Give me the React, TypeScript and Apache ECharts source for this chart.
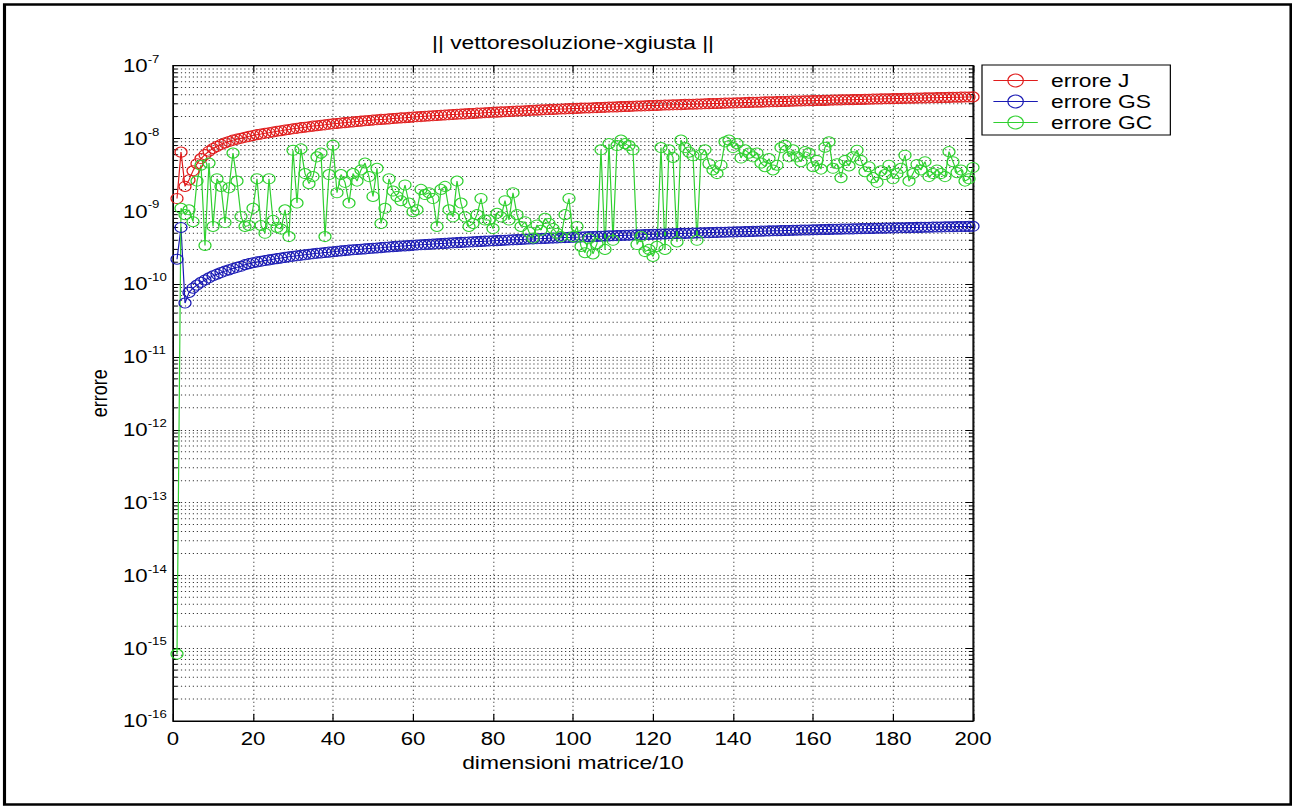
import React, { useEffect, useRef } from "react";
import * as echarts from "echarts";

// The reference figure is horizontally stretched by this factor
const S = 1.2;
const W = 1292 / S;
const H = 807;
const FONT = "'Liberation Sans', Arial, Helvetica, sans-serif";

const titleText = "|| vettoresoluzione-xgiusta ||";
const xName = "dimensioni matrice/10";
const yName = "errore";
const seriesNames = ["errore J", "errore GS", "errore GC"];
const colors = ["#e01c1c", "#1a1ab4", "#30d030"];
const GRIDC = "#3a3a3a";

const xMin = 0;
const xMax = 200;
const xStep = 20;
const yMin = 1e-16;
const yMax = 1e-7;
const minorFactors = [2, 3, 4, 5, 6, 7, 8, 9];
const decadeExps = [-16, -15, -14, -13, -12, -11, -10, -9, -8];

const dims = Array.from({ length: 200 }, (_, i) => i + 1);

const errJ = [
  1.5e-9, 6.5e-9, 2.2e-9, 2.7e-9, 3.6e-9, 4.5e-9, 5.3e-9, 6.0e-9, 6.7e-9, 7.3e-9,
  7.8e-9, 8.3e-9, 8.7e-9, 9.1e-9, 9.5e-9, 9.8e-9, 1.01e-8, 1.04e-8, 1.07e-8, 1.10e-8,
  1.13e-8, 1.15e-8, 1.18e-8, 1.20e-8, 1.23e-8, 1.26e-8, 1.28e-8, 1.31e-8, 1.33e-8, 1.36e-8,
  1.38e-8, 1.41e-8, 1.43e-8, 1.45e-8, 1.48e-8, 1.50e-8, 1.52e-8, 1.54e-8, 1.57e-8, 1.59e-8,
  1.61e-8, 1.63e-8, 1.65e-8, 1.67e-8, 1.69e-8, 1.71e-8, 1.73e-8, 1.75e-8, 1.77e-8, 1.79e-8,
  1.81e-8, 1.83e-8, 1.84e-8, 1.86e-8, 1.88e-8, 1.90e-8, 1.92e-8, 1.93e-8, 1.95e-8, 1.97e-8,
  1.99e-8, 2.00e-8, 2.02e-8, 2.04e-8, 2.05e-8, 2.07e-8, 2.09e-8, 2.10e-8, 2.12e-8, 2.14e-8,
  2.15e-8, 2.17e-8, 2.18e-8, 2.20e-8, 2.21e-8, 2.23e-8, 2.24e-8, 2.26e-8, 2.27e-8, 2.29e-8,
  2.30e-8, 2.32e-8, 2.33e-8, 2.35e-8, 2.36e-8, 2.38e-8, 2.39e-8, 2.41e-8, 2.42e-8, 2.44e-8,
  2.45e-8, 2.47e-8, 2.48e-8, 2.50e-8, 2.51e-8, 2.52e-8, 2.54e-8, 2.55e-8, 2.57e-8, 2.58e-8,
  2.59e-8, 2.61e-8, 2.62e-8, 2.63e-8, 2.64e-8, 2.66e-8, 2.67e-8, 2.68e-8, 2.70e-8, 2.71e-8,
  2.72e-8, 2.74e-8, 2.75e-8, 2.76e-8, 2.77e-8, 2.79e-8, 2.80e-8, 2.81e-8, 2.83e-8, 2.84e-8,
  2.85e-8, 2.86e-8, 2.88e-8, 2.89e-8, 2.90e-8, 2.91e-8, 2.92e-8, 2.94e-8, 2.95e-8, 2.96e-8,
  2.97e-8, 2.98e-8, 3.00e-8, 3.01e-8, 3.02e-8, 3.03e-8, 3.04e-8, 3.06e-8, 3.07e-8, 3.08e-8,
  3.09e-8, 3.10e-8, 3.12e-8, 3.13e-8, 3.14e-8, 3.15e-8, 3.16e-8, 3.18e-8, 3.19e-8, 3.20e-8,
  3.21e-8, 3.22e-8, 3.23e-8, 3.24e-8, 3.26e-8, 3.27e-8, 3.28e-8, 3.29e-8, 3.30e-8, 3.31e-8,
  3.32e-8, 3.33e-8, 3.34e-8, 3.35e-8, 3.37e-8, 3.38e-8, 3.39e-8, 3.40e-8, 3.41e-8, 3.42e-8,
  3.43e-8, 3.44e-8, 3.45e-8, 3.46e-8, 3.48e-8, 3.49e-8, 3.50e-8, 3.51e-8, 3.52e-8, 3.53e-8,
  3.54e-8, 3.55e-8, 3.56e-8, 3.57e-8, 3.58e-8, 3.59e-8, 3.60e-8, 3.61e-8, 3.62e-8, 3.63e-8,
  3.64e-8, 3.65e-8, 3.66e-8, 3.67e-8, 3.68e-8, 3.69e-8, 3.70e-8, 3.71e-8, 3.72e-8, 3.73e-8,
];

const errGS = [
  2.2e-10, 6.0e-10, 5.5e-11, 7.7e-11, 8.8e-11, 9.7e-11, 1.06e-10, 1.14e-10, 1.22e-10, 1.30e-10,
  1.37e-10, 1.44e-10, 1.51e-10, 1.57e-10, 1.64e-10, 1.70e-10, 1.76e-10, 1.85e-10, 1.91e-10, 1.97e-10,
  2.02e-10, 2.06e-10, 2.11e-10, 2.15e-10, 2.20e-10, 2.24e-10, 2.28e-10, 2.33e-10, 2.37e-10, 2.41e-10,
  2.45e-10, 2.49e-10, 2.53e-10, 2.57e-10, 2.61e-10, 2.65e-10, 2.68e-10, 2.72e-10, 2.75e-10, 2.79e-10,
  2.82e-10, 2.86e-10, 2.89e-10, 2.93e-10, 2.96e-10, 2.99e-10, 3.02e-10, 3.05e-10, 3.08e-10, 3.11e-10,
  3.14e-10, 3.17e-10, 3.21e-10, 3.24e-10, 3.27e-10, 3.30e-10, 3.33e-10, 3.35e-10, 3.38e-10, 3.41e-10,
  3.44e-10, 3.47e-10, 3.49e-10, 3.52e-10, 3.55e-10, 3.58e-10, 3.61e-10, 3.63e-10, 3.66e-10, 3.69e-10,
  3.71e-10, 3.74e-10, 3.76e-10, 3.79e-10, 3.81e-10, 3.84e-10, 3.86e-10, 3.89e-10, 3.91e-10, 3.94e-10,
  3.96e-10, 3.99e-10, 4.01e-10, 4.04e-10, 4.06e-10, 4.08e-10, 4.11e-10, 4.13e-10, 4.16e-10, 4.18e-10,
  4.20e-10, 4.22e-10, 4.25e-10, 4.27e-10, 4.29e-10, 4.31e-10, 4.33e-10, 4.36e-10, 4.38e-10, 4.40e-10,
  4.42e-10, 4.44e-10, 4.47e-10, 4.49e-10, 4.51e-10, 4.53e-10, 4.55e-10, 4.58e-10, 4.60e-10, 4.62e-10,
  4.64e-10, 4.66e-10, 4.68e-10, 4.70e-10, 4.72e-10, 4.74e-10, 4.76e-10, 4.79e-10, 4.81e-10, 4.83e-10,
  4.85e-10, 4.87e-10, 4.89e-10, 4.91e-10, 4.93e-10, 4.95e-10, 4.97e-10, 4.98e-10, 5.00e-10, 5.02e-10,
  5.04e-10, 5.06e-10, 5.08e-10, 5.10e-10, 5.12e-10, 5.14e-10, 5.16e-10, 5.17e-10, 5.19e-10, 5.21e-10,
  5.23e-10, 5.25e-10, 5.26e-10, 5.28e-10, 5.30e-10, 5.32e-10, 5.34e-10, 5.36e-10, 5.38e-10, 5.40e-10,
  5.42e-10, 5.43e-10, 5.45e-10, 5.46e-10, 5.48e-10, 5.50e-10, 5.52e-10, 5.53e-10, 5.55e-10, 5.57e-10,
  5.59e-10, 5.61e-10, 5.62e-10, 5.64e-10, 5.66e-10, 5.68e-10, 5.69e-10, 5.71e-10, 5.72e-10, 5.74e-10,
  5.76e-10, 5.78e-10, 5.79e-10, 5.81e-10, 5.83e-10, 5.85e-10, 5.86e-10, 5.88e-10, 5.89e-10, 5.91e-10,
  5.93e-10, 5.94e-10, 5.96e-10, 5.97e-10, 5.99e-10, 6.01e-10, 6.02e-10, 6.04e-10, 6.05e-10, 6.07e-10,
  6.09e-10, 6.10e-10, 6.12e-10, 6.13e-10, 6.15e-10, 6.17e-10, 6.18e-10, 6.20e-10, 6.21e-10, 6.23e-10,
];

const errGC = [
  8.3e-16, 1.1e-9, 9.0e-10, 1.05e-9, 7.2e-10, 2.6e-9, 4.3e-9, 3.4e-10, 4.6e-9, 6.2e-10,
  2.8e-9, 2.2e-9, 7.0e-10, 2.1e-9, 6.3e-9, 2.6e-9, 8.5e-10, 6.2e-10, 6.4e-10, 1.1e-9,
  2.8e-9, 6.4e-10, 5.0e-10, 2.8e-9, 7.5e-10, 6.0e-10, 5.7e-10, 1.05e-9, 4.5e-10, 6.9e-9,
  1.3e-9, 7.2e-9, 3.3e-9, 2.4e-9, 3.0e-9, 5.6e-9, 6.3e-9, 4.5e-10, 3.2e-9, 8.1e-9,
  1.8e-9, 3.2e-9, 2.5e-9, 1.3e-9, 3.3e-9, 2.6e-9, 3.7e-9, 4.6e-9, 3.0e-9, 1.6e-9,
  3.9e-9, 6.8e-10, 1.1e-9, 2.8e-9, 1.9e-9, 1.6e-9, 1.4e-9, 2.3e-9, 1.3e-9, 9.9e-10,
  1.05e-9, 2.0e-9, 1.7e-9, 1.8e-9, 1.5e-9, 6.2e-10, 2.0e-9, 2.2e-9, 1.05e-9, 8.4e-10,
  2.6e-9, 1.3e-9, 8.4e-10, 6.2e-10, 6.8e-10, 9.0e-10, 1.5e-9, 7.6e-10, 7.6e-10, 5.8e-10,
  9.4e-10, 8.4e-10, 1.4e-9, 7.6e-10, 1.8e-9, 9.0e-10, 6.2e-10, 7.2e-10, 5.2e-10, 4.3e-10,
  6.5e-10, 5.5e-10, 8.0e-10, 6.8e-10, 5.8e-10, 5.0e-10, 4.5e-10, 9.0e-10, 1.5e-9, 4.5e-10,
  6.2e-10, 3.3e-10, 2.7e-10, 4.2e-10, 2.6e-10, 3.6e-10, 7.0e-9, 3.0e-10, 8.5e-9, 4.0e-10,
  8.0e-9, 9.5e-9, 8.5e-9, 8.0e-9, 7.0e-9, 3.5e-10, 4.5e-10, 2.8e-10, 3.0e-10, 2.4e-10,
  3.3e-10, 7.5e-9, 3.0e-10, 7.0e-9, 5.5e-9, 3.8e-10, 9.5e-9, 7.5e-9, 6.5e-9, 5.8e-9,
  4.0e-10, 6.0e-9, 7.0e-9, 4.5e-9, 3.7e-9, 3.3e-9, 4.3e-9, 9.0e-9, 9.5e-9, 7.5e-9,
  8.5e-9, 5.4e-9, 7.0e-9, 6.3e-9, 5.6e-9, 6.3e-9, 4.6e-9, 4.1e-9, 5.3e-9, 3.7e-9,
  4.3e-9, 7.5e-9, 8.1e-9, 5.6e-9, 7.0e-9, 5.6e-9, 4.8e-9, 6.6e-9, 6.3e-9, 4.1e-9,
  5.0e-9, 3.8e-9, 7.6e-9, 9.0e-9, 3.9e-9, 4.5e-9, 2.9e-9, 5.0e-9, 4.2e-9, 5.6e-9,
  6.9e-9, 5.0e-9, 3.5e-9, 4.1e-9, 2.9e-9, 2.5e-9, 3.6e-9, 3.2e-9, 4.3e-9, 2.8e-9,
  3.3e-9, 3.9e-9, 5.9e-9, 2.6e-9, 3.3e-9, 4.4e-9, 3.7e-9, 4.8e-9, 3.0e-9, 3.3e-9,
  3.7e-9, 3.3e-9, 3.0e-9, 6.6e-9, 4.8e-9, 3.4e-9, 3.7e-9, 2.6e-9, 2.8e-9, 4.0e-9,
];

const seriesValues = [errJ, errGS, errGC];

// layout (internal, unstretched coordinates)
const gridLeft = 173 / S;
const gridRight = 973 / S;
const gridTop = 65.7;
const gridBottom = 721;

function buildOption() {
  const minorValues: number[] = [];
  decadeExps.forEach((e) => minorFactors.forEach((m) => minorValues.push(m * Math.pow(10, e))));

  const lineSeries = seriesNames.map((name, i) => ({
    type: "line",
    name,
    data: dims.map((x, k) => [x, seriesValues[i][k]]),
    symbol: "circle",
    symbolSize: 10,
    showSymbol: true,
    clip: false,
    z: 3,
    lineStyle: { color: colors[i], width: 1 },
    itemStyle: { color: "rgba(255,255,255,0)", borderColor: colors[i], borderWidth: 1 },
    emphasis: { disabled: true },
  }));

  const minorSeries = {
    type: "custom",
    silent: true,
    z: 1,
    coordinateSystem: "cartesian2d",
    xAxisIndex: 0,
    yAxisIndex: 0,
    data: minorValues.map((v) => [xMin, v]),
    encode: { x: 0, y: 1 },
    renderItem: (_params: any, api: any) => {
      const v = api.value(1);
      const a = api.coord([xMin, v]);
      const b = api.coord([xMax, v]);
      return {
        type: "group",
        children: [
          {
            type: "line",
            shape: { x1: a[0], y1: a[1], x2: b[0], y2: b[1] },
            style: { stroke: GRIDC, lineWidth: 1, lineDash: [1, 2.3] },
          },
          {
            type: "line",
            shape: { x1: a[0], y1: a[1], x2: a[0] + 3.5, y2: a[1] },
            style: { stroke: "#000", lineWidth: 1 },
          },
          {
            type: "line",
            shape: { x1: b[0] - 3.5, y1: b[1], x2: b[0], y2: b[1] },
            style: { stroke: "#000", lineWidth: 1 },
          },
        ],
      };
    },
  };

  const axisLine = { show: true, onZero: false, lineStyle: { color: "#000", width: 1 } };

  return {
    animation: false,
    backgroundColor: "#fff",
    grid: {
      left: gridLeft,
      top: gridTop,
      width: gridRight - gridLeft,
      height: gridBottom - gridTop,
      show: true,
      borderColor: "#000",
      borderWidth: 1,
      backgroundColor: "#fff",
    },
    xAxis: [
      {
        type: "value",
        min: xMin,
        max: xMax,
        interval: xStep,
        position: "bottom",
        axisLine,
        axisTick: { show: true, inside: true, length: 7, lineStyle: { color: "#000" } },
        axisLabel: {
          color: "#000",
          fontSize: 18.5,
          fontFamily: FONT,
          margin: 8,
          showMinLabel: true,
          showMaxLabel: true,
        },
        splitLine: { show: true, lineStyle: { color: GRIDC, width: 1, type: [1, 3] } },
        name: xName,
        nameLocation: "middle",
        nameGap: 31,
        nameTextStyle: { color: "#000", fontSize: 19, fontFamily: FONT },
      },
      {
        type: "value",
        min: xMin,
        max: xMax,
        interval: xStep,
        position: "top",
        axisLine,
        axisTick: { show: true, inside: true, length: 7, lineStyle: { color: "#000" } },
        axisLabel: { show: false },
        splitLine: { show: false },
      },
    ],
    yAxis: [
      {
        type: "log",
        logBase: 10,
        min: yMin,
        max: yMax,
        interval: 1,
        position: "left",
        axisLine,
        axisTick: { show: true, inside: true, length: 6, lineStyle: { color: "#000" } },
        axisLabel: {
          color: "#000",
          fontFamily: FONT,
          align: "left",
          margin: gridLeft - 123 / S,
          showMinLabel: true,
          showMaxLabel: true,
          formatter: (v: number) => `{b|10}{e|${Math.round(Math.log10(v))}}`,
          rich: {
            b: { fontSize: 18.5, fontFamily: FONT, color: "#000", lineHeight: 24 },
            e: { fontSize: 11, fontFamily: FONT, color: "#000", lineHeight: 8, verticalAlign: "top" },
          },
        },
        splitLine: { show: true, lineStyle: { color: GRIDC, width: 1, type: [1, 2.3] } },
        name: yName,
        nameLocation: "middle",
        nameGap: 46,
        nameTextStyle: { color: "#000", fontSize: 18, fontFamily: FONT },
      },
      {
        type: "log",
        logBase: 10,
        min: yMin,
        max: yMax,
        interval: 1,
        position: "right",
        axisLine,
        axisTick: { show: true, inside: true, length: 6, lineStyle: { color: "#000" } },
        axisLabel: { show: false },
        splitLine: { show: false },
      },
    ],
    legend: {
      orient: "vertical",
      left: 982 / S,
      top: 65,
      padding: [5, 15, 2, 9],
      itemGap: 0,
      itemWidth: 37,
      itemHeight: 16,
      backgroundColor: "#fff",
      borderColor: "#000",
      borderWidth: 1,
      borderRadius: 0,
      selectedMode: false,
      textStyle: { color: "#000", fontSize: 19, fontFamily: FONT, lineHeight: 21, padding: [0, 0, 0, 6] },
      data: seriesNames.map((n, i) => ({
        name: n,
        itemStyle: { color: "rgba(255,255,255,0)", borderColor: colors[i], borderWidth: 1 },
        lineStyle: { color: colors[i], width: 1 },
      })),
    },
    graphic: [
      {
        type: "text",
        x: (gridLeft + gridRight) / 2,
        y: 42,
        style: {
          text: titleText,
          fontSize: 19,
          fontFamily: FONT,
          fill: "#000",
          align: "center",
          verticalAlign: "middle",
        },
      },
      {
        type: "rect",
        silent: true,
        z: 100,
        shape: { x: 4.5 / S, y: 4.5, width: (1291 - 4.5) / S, height: 800 },
        style: { fill: "none", stroke: "#000", lineWidth: 2.6 },
      },
    ],
    series: [minorSeries, ...lineSeries],
  };
}

export default function App() {
  const ref = useRef<HTMLDivElement>(null);
  useEffect(() => {
    const el = ref.current;
    if (!el) return;
    const chart = echarts.init(el, null, { renderer: "svg", width: W, height: H });
    chart.setOption(buildOption() as any);
    return () => chart.dispose();
  }, []);
  return (
    <div
      ref={ref}
      style={{
        position: "fixed",
        left: 0,
        top: 0,
        width: W,
        height: H,
        transform: `scaleX(${S})`,
        transformOrigin: "0 0",
        background: "#fff",
      }}
    />
  );
}
